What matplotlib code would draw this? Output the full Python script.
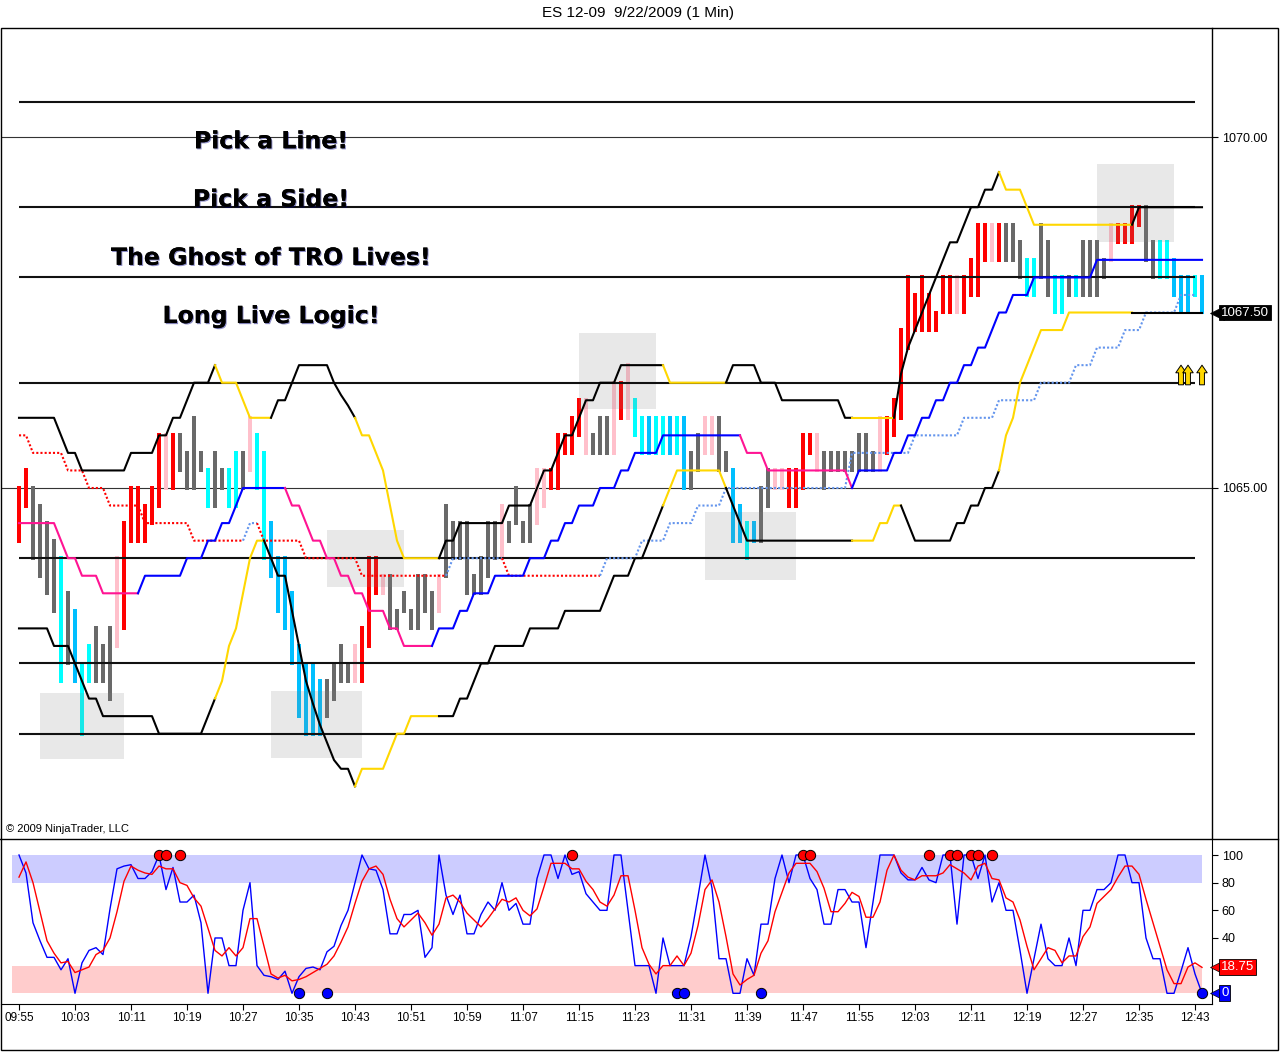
import numpy as np
import matplotlib.pyplot as plt
import matplotlib.patheffects as pe
from matplotlib import transforms
from matplotlib.patches import Rectangle
from matplotlib.lines import Line2D

plt.rcParams['font.family'] = ['Liberation Sans', 'DejaVu Sans']

# price is stored in ticks above/below 1065.00
BASE = 1065.0
TICK = 0.25

# 1-min bars, high / low in ticks
bar_hi = [0, 1, 0, -1, -2, -3, -4, -6, -7, -10,
          -9, -8, -9, -8, -4, -2, 0, 0, -1, 0,
          3, 3, 3, 3, 2, 4, 2, 1, 2, 1,
          1, 2, 2, 4, 3, 2, -2, -4, -4, -6,
          -9, -10, -10, -11, -11, -10, -9, -10, -9, -8,
          -4, -4, -5, -5, -7, -6, -7, -5, -5, -6,
          -5, -1, -2, -2, -2, -5, -4, -2, -2, -1,
          -2, 0, -2, -1, 1, 1, 1, 3, 3, 4,
          5, 5, 3, 4, 4, 6, 6, 7, 5, 4,
          4, 4, 4, 4, 4, 4, 2, 3, 4, 4,
          4, 2, 1, -1, -2, -2, 0, 1, 1, 1,
          1, 1, 3, 3, 3, 2, 2, 2, 2, 2,
          3, 3, 2, 4, 4, 5, 9, 12, 11, 12,
          11, 10, 12, 12, 12, 12, 13, 15, 15, 15,
          15, 15, 15, 14, 13, 13, 15, 14, 12, 12,
          12, 12, 14, 14, 14, 13, 15, 15, 15, 16,
          16, 16, 14, 14, 14, 13, 12, 12, 12, 12]
bar_lo = [-3, -1, -4, -5, -6, -7, -11, -10, -11, -14,
          -11, -11, -11, -12, -9, -8, -3, -3, -3, -2,
          -1, 0, 0, 1, 0, 0, 1, -1, -1, 0,
          -1, -1, 0, 1, 0, -4, -5, -7, -8, -10,
          -13, -14, -14, -14, -13, -12, -11, -11, -11, -11,
          -9, -6, -6, -8, -8, -7, -8, -8, -7, -8,
          -7, -5, -4, -4, -6, -6, -6, -5, -4, -4,
          -3, -2, -3, -3, -2, -1, 0, 0, 2, 2,
          3, 2, 2, 2, 2, 2, 4, 4, 3, 2,
          2, 2, 2, 2, 2, 0, 0, 1, 2, 2,
          1, 1, -3, -3, -4, -3, -3, -1, 0, 0,
          -1, -1, 0, 2, 1, 0, 1, 1, 1, 1,
          1, 1, 1, 1, 2, 3, 4, 8, 9, 9,
          9, 9, 10, 10, 10, 10, 11, 11, 13, 13,
          13, 13, 13, 12, 11, 11, 12, 11, 10, 10,
          11, 11, 11, 11, 11, 12, 13, 14, 14, 14,
          15, 13, 12, 12, 12, 11, 10, 10, 11, 10]
# r red, p pink, g grey, c cyan, b sky blue
bar_col = list("rrggggcgbc" "cgggprrrrr" "rprggggcgg" "ccgpccbbbb"
               "bbbbggggpr" "rrpggggggg" "pggggggggp" "ggggpprrrr"
               "rpgggprpcc" "bccbcbggpp" "ggbbcbggpp" "rrrrpggggg"
               "gggprrrrrr" "rrrrprrrrp" "rgggccggcc" "gcggggprrr"
               "rggccbbbcb")

# envelope / trend lines (ticks) and their colour runs
upper = [4, 4, 4, 4, 4, 4, 3, 2, 2, 1,
         1, 1, 1, 1, 1, 1, 2, 2, 2, 2,
         3, 3, 4, 4, 5, 6, 6, 6, 7, 6,
         6, 6, 5, 4, 4, 4, 4, 5, 5, 6,
         7, 7, 7, 7, 7, 6, 5.3, 4.7, 4, 3,
         3, 2, 1, -1, -3, -4, -4, -4, -4, -4,
         -4, -3, -3, -2, -2, -2, -2, -2, -2, -2,
         -1, -1, -1, -1, 0, 1, 1, 2, 3, 3,
         4, 5, 5, 6, 6, 6, 7, 7, 7, 7,
         7, 7, 7, 6, 6, 6, 6, 6, 6, 6,
         6, 6, 7, 7, 7, 7, 6, 6, 6, 5,
         5, 5, 5, 5, 5, 5, 5, 5, 4, 4,
         4, 4, 4, 4, 4, 4, 6.5, 8, 9, 10,
         11, 12, 13, 14, 14, 15, 16, 16, 17, 17,
         18, 17, 17, 17, 16, 15, 15, 15, 15, 15,
         15, 15, 15, 15, 15, 15, 15, 15, 15, 15,
         16, 16, 16, 16, 16, 16, 16, 16, 16, 16]
upper_runs = [('k', 29), ('y', 8), ('k', 12), ('y', 12), ('k', 32), ('y', 9),
              ('k', 18), ('y', 6), ('k', 15), ('y', 19), ('k', 10)]

lower = [-8, -8, -8, -8, -8, -9, -9, -9, -10, -11,
         -12, -12, -13, -13, -13, -13, -13, -13, -13, -13,
         -14, -14, -14, -14, -14, -14, -14, -13, -12, -11,
         -9, -8, -6, -4, -3, -3, -4, -5, -5, -7,
         -9, -11, -12.3, -13.5, -14.5, -15.5, -16, -16, -17, -16,
         -16, -16, -16, -15, -14, -14, -13, -13, -13, -13,
         -13, -13, -13, -12, -12, -11, -10, -10, -9, -9,
         -9, -9, -9, -8, -8, -8, -8, -8, -7, -7,
         -7, -7, -7, -7, -6, -5, -5, -5, -4, -4,
         -3, -2, -1, 0, 1, 1, 1, 1, 1, 1,
         1, 0, -1, -2, -3, -3, -3, -3, -3, -3,
         -3, -3, -3, -3, -3, -3, -3, -3, -3, -3,
         -3, -3, -3, -2, -2, -1, -1, -2, -3, -3,
         -3, -3, -3, -3, -2, -2, -1, -1, 0, 0,
         1, 3, 4, 6, 7, 8, 9, 9, 9, 9,
         10, 10, 10, 10, 10, 10, 10, 10, 10, 10,
         10, 10, 10, 10, 10, 10, 10, 10, 10, 10]
lower_runs = [('k', 29), ('y', 7), ('k', 13), ('y', 12), ('k', 32), ('y', 9),
              ('k', 18), ('y', 7), ('k', 14), ('y', 19), ('k', 10)]

middle = [-2, -2, -2, -2, -2, -2, -3, -4, -4, -5,
          -5, -5, -6, -6, -6, -6, -6, -6, -5, -5,
          -5, -5, -5, -5, -4, -4, -4, -3, -3, -2,
          -2, -1, 0, 0, 0, 0, 0, 0, 0, -1,
          -1, -2, -3, -3, -4, -4, -5, -5, -6, -6,
          -7, -7, -7, -8, -8, -9, -9, -9, -9, -9,
          -8, -8, -8, -7, -7, -6, -6, -6, -5, -5,
          -5, -5, -5, -4, -4, -4, -3, -3, -2, -2,
          -1, -1, -1, 0, 0, 0, 1, 1, 2, 2,
          2, 2, 3, 3, 3, 3, 3, 3, 3, 3,
          3, 3, 3, 3, 2, 2, 2, 1, 1, 1,
          1, 1, 1, 1, 1, 1, 1, 1, 1, 0,
          1, 1, 1, 1, 1, 2, 2, 3, 3, 4,
          4, 5, 5, 6, 6, 7, 7, 8, 8, 9,
          10, 10, 11, 11, 11, 12, 12, 12, 12, 12,
          12, 12, 12, 12, 13, 13, 13, 13, 13, 13,
          13, 13, 13, 13, 13, 13, 13, 13, 13, 13]
middle_runs = [('p', 18), ('b', 21), ('p', 21), ('b', 44), ('p', 16), ('b', 50)]

dotted = [3, 3, 2, 2, 2, 2, 2, 1, 1, 1,
          0, 0, 0, -1, -1, -1, -1, -1, -2, -2,
          -2, -2, -2, -2, -2, -3, -3, -3, -3, -3,
          -3, -3, -3, -2, -2, -3, -3, -3, -3, -3,
          -3, -4, -4, -4, -4, -4, -4, -4, -4, -5,
          -5, -5, -5, -5, -5, -5, -5, -5, -5, -5,
          -5, -5, -4, -4, -4, -4, -4, -4, -4, -4,
          -5, -5, -5, -5, -5, -5, -5, -5, -5, -5,
          -5, -5, -5, -5, -4, -4, -4, -4, -4, -3,
          -3, -3, -3, -2, -2, -2, -2, -1, -1, -1,
          -1, 0, 0, 0, 0, 0, 0, 0, 0, 0,
          0, 0, 0, 0, 0, 0, 0, 0, 0, 2,
          2, 2, 2, 2, 2, 2, 2, 2, 3, 3,
          3, 3, 3, 3, 3, 4, 4, 4, 4, 4,
          5, 5, 5, 5, 5, 5, 6, 6, 6, 6,
          6, 7, 7, 7, 8, 8, 8, 8, 9, 9,
          9, 10, 10, 10, 10, 10, 11, 11, 11, np.nan]
dotted_runs = [('r', 33), ('b', 2), ('r', 27), ('b', 8), ('r', 14), ('b', 86)]

levels = [1070.50, 1069.00, 1068.00, 1066.50, 1064.00, 1062.50, 1061.50]

# shaded zones: first bar, last bar, low price, high price
zones = [(3, 15, 1061.14, 1062.08), (36, 49, 1061.16, 1062.11),
         (44, 55, 1063.59, 1064.40), (80, 91, 1066.13, 1067.21),
         (98, 111, 1063.69, 1064.66), (154, 165, 1068.50, 1069.62)]

captions = ['Pick a Line!', 'Pick a Side!', 'The Ghost of TRO Lives!', 'Long Live Logic!']
caption_price = [1069.84, 1069.01, 1068.18, 1067.35]
caption_bar = 36

arrow_bars = [166, 167, 169]
arrow_base, arrow_tip = 1066.47, 1066.75
last_price = 1067.50

# stochastics
fast_k = [100, 87, 51, 38, 26, 26, 17, 25, 0, 22,
          31, 33, 28, 61, 90, 92, 93, 83, 83, 88,
          100, 75, 91, 66, 66, 71, 51, 0, 40, 40,
          20, 20, 60, 80, 20, 13, 12, 10, 16, 0,
          12, 18, 19, 17, 30, 34, 49, 60, 80, 100,
          90, 89, 75, 43, 43, 57, 57, 60, 26, 33,
          100, 71, 57, 71, 43, 43, 57, 66, 60, 80,
          60, 65, 50, 50, 83, 100, 100, 83, 100, 86,
          88, 72, 66, 60, 60, 100, 100, 60, 20, 20,
          20, 0, 40, 20, 20, 20, 41, 70, 100, 76,
          25, 25, 0, 0, 25, 13, 50, 50, 83, 100,
          80, 100, 100, 83, 75, 50, 50, 75, 75, 66,
          66, 33, 66, 100, 100, 100, 87, 82, 82, 91,
          82, 80, 100, 100, 50, 100, 100, 83, 100, 66,
          80, 60, 60, 31, 0, 25, 50, 25, 20, 20,
          40, 20, 60, 60, 75, 75, 80, 100, 100, 80,
          80, 40, 25, 25, 0, 0, 16, 33, 14, 0]
slow_d = [84, 95, 80, 59, 38, 29, 22, 23, 15, 17,
          19, 28, 31, 40, 59, 81, 92, 89, 87, 86,
          92, 90, 90, 80, 78, 69, 63, 47, 31, 27,
          33, 27, 33, 54, 54, 34, 14, 11, 13, 9,
          10, 12, 15, 18, 21, 27, 37, 48, 65, 81,
          90, 92, 86, 68, 54, 48, 53, 58, 51, 42,
          50, 69, 71, 66, 58, 53, 48, 54, 61, 68,
          66, 69, 60, 56, 61, 77, 94, 94, 94, 90,
          90, 81, 75, 66, 63, 71, 85, 85, 60, 33,
          21, 14, 20, 20, 27, 20, 29, 49, 75, 82,
          66, 41, 14, 6, 10, 13, 29, 38, 59, 73,
          87, 94, 94, 94, 88, 76, 59, 59, 65, 73,
          70, 55, 55, 66, 89, 100, 89, 84, 82, 85,
          85, 85, 87, 93, 90, 87, 82, 92, 94, 83,
          82, 69, 66, 53, 34, 17, 25, 33, 31, 22,
          27, 27, 41, 48, 65, 70, 75, 84, 92, 92,
          86, 68, 51, 34, 17, 7, 7, 19, 22, 18.75]
top_dots = [20, 21, 23, 79, 112, 113, 130, 133, 134, 136, 137, 139]
bottom_dots = [40, 44, 94, 95, 106, 169]
time_labels = ['09:55', '10:03', '10:11', '10:19', '10:27', '10:35', '10:43', '10:51',
               '10:59', '11:07', '11:15', '11:23', '11:31', '11:39', '11:47', '11:55',
               '12:03', '12:11', '12:19', '12:27', '12:35', '12:43']

BAR_COLORS = {'r': '#FF0000', 'p': '#FFC0CB', 'g': '#696969', 'c': '#00FFFF', 'b': '#00BFFF'}
ENV_COLORS = {'k': '#000000', 'y': '#FFD700'}
MID_COLORS = {'p': '#FF1493', 'b': '#0000FF'}
DOT_COLORS = {'r': '#FF0000', 'b': '#6495ED'}

n = len(bar_hi)
assert len(bar_lo) == n and len(bar_col) == n
idx = np.arange(n)
hi = BASE + TICK * np.array(bar_hi, float)
lo = BASE + TICK * np.array(bar_lo, float)


def to_price(vals):
    return BASE + TICK * np.asarray(vals, float)


def colored_line(ax, vals, runs, cmap, **kw):
    y = to_price(vals)
    flags = ''.join(c * k for c, k in runs)
    i = 1
    while i < len(y):
        j = i
        while j + 1 < len(y) and flags[j + 1] == flags[i]:
            j += 1
        ax.plot(idx[i - 1:j + 1], y[i - 1:j + 1], color=cmap[flags[i]], **kw)
        i = j + 1


W, H = 1280, 1052
fig = plt.figure(figsize=(W / 100, H / 100), dpi=100)


def frame(x0, y0, x1, y1):
    return [x0 / W, 1 - y1 / H, (x1 - x0) / W, (y1 - y0) / H]


ax = fig.add_axes(frame(1, 28, 1212, 838))
ax2 = fig.add_axes(frame(1, 840, 1212, 1004))
xlim = (-18 / 7, 1193 / 7)

# ---- price panel ----
ax.set_xlim(*xlim)
ax.set_ylim(1060.014, 1071.553)
for v in (1065, 1070):
    ax.axhline(v, color='#333333', lw=0.8, zorder=1)

pad = 0.028
ax.bar(idx, hi - lo + 2 * pad, bottom=lo - pad, width=0.58,
       color=[BAR_COLORS[c] for c in bar_col], lw=0, zorder=2)

for b0, b1, p0, p1 in zones:
    ax.add_patch(Rectangle((b0, p0), b1 - b0, p1 - p0, fc='#808080', alpha=0.18,
                           lw=0, zorder=2.5))

ax.hlines(levels, 0, n - 2, colors='#111111', lw=1.5, zorder=3)

colored_line(ax, dotted, dotted_runs, DOT_COLORS, lw=1.5, ls=(0, (1, 1)), zorder=4)
colored_line(ax, middle, middle_runs, MID_COLORS, lw=1.5, zorder=4.2)
colored_line(ax, lower, lower_runs, ENV_COLORS, lw=1.5, zorder=4.4)
colored_line(ax, upper, upper_runs, ENV_COLORS, lw=1.5, zorder=4.4)

for b in arrow_bars:
    ax.annotate('', xy=(b, arrow_tip), xytext=(b, arrow_base),
                arrowprops=dict(arrowstyle='simple,head_length=0.55,head_width=0.75,tail_width=0.35',
                                fc='#FFD700', ec='black', lw=0.7, shrinkA=0, shrinkB=0),
                zorder=6)

shadow = [pe.withSimplePatchShadow(offset=(0.8, -0.8), shadow_rgbFace='#000080', alpha=0.45),
          pe.Normal()]
for txt, p in zip(captions, caption_price):
    ax.text(caption_bar, p, txt, ha='center', va='baseline', fontsize=17,
            fontweight='bold', family='DejaVu Sans', color='black',
            path_effects=shadow, zorder=7)

ax.set_xticks([])
ax.yaxis.tick_right()
ax.set_yticks([1065, 1070])
ax.set_yticklabels(['1065.00', '1070.00'])
ax.tick_params(axis='y', length=4, width=0.8, pad=3, labelsize=9, colors='black')
for s in ('left', 'top', 'bottom'):
    ax.spines[s].set_visible(False)
ax.spines['right'].set_linewidth(1)


def tag(axis, value, label, fc):
    tr = transforms.blended_transform_factory(axis.transAxes, axis.transData)
    axis.plot([1], [value], marker='<', ms=10, color=fc, mec='black', mew=0.5,
              transform=tr + transforms.ScaledTranslation(0.05, 0, fig.dpi_scale_trans),
              clip_on=False, zorder=10)
    axis.annotate(label, xy=(1, value), xycoords=tr, xytext=(9, 0),
                  textcoords='offset pixels', ha='left', va='center', color='white',
                  fontsize=9.5, annotation_clip=False, zorder=11,
                  bbox=dict(boxstyle='square,pad=0.15', fc=fc, ec='black', lw=0.6))


tag(ax, last_price, '1067.50', 'black')

# ---- stochastics panel ----
ax2.set_xlim(*xlim)
ax2.set_ylim(-7.74, 110.85)
ax2.fill_between([-1, n - 1], 80, 100, color='#CCCCFF', lw=0, zorder=1)
ax2.fill_between([-1, n - 1], 0, 20, color='#FFCCCC', lw=0, zorder=1)
ax2.plot(idx, fast_k, color='#0000FF', lw=1.0, zorder=3)
ax2.plot(idx, slow_d, color='#FF0000', lw=1.0, zorder=3.5)
ax2.scatter(top_dots, np.full(len(top_dots), 100), s=55, c='#FF0000',
            edgecolors='black', linewidths=0.7, zorder=5, clip_on=False)
ax2.scatter(bottom_dots, np.full(len(bottom_dots), 0), s=55, c='#0000FF',
            edgecolors='black', linewidths=0.7, zorder=5, clip_on=False)

ax2.set_xticks(np.arange(0, n, 8))
ax2.set_xticklabels(time_labels)
ax2.tick_params(axis='x', length=4, width=0.8, pad=2, labelsize=8.5, colors='black')
ax2.yaxis.tick_right()
ax2.set_yticks([40, 60, 80, 100])
ax2.tick_params(axis='y', length=4, width=0.8, pad=3, labelsize=9)
for s in ('left', 'top'):
    ax2.spines[s].set_visible(False)
tag(ax2, slow_d[-1], '18.75', '#FF0000')
tag(ax2, fast_k[-1], '0', '#0000FF')

# ---- chart frame and text ----
fig.add_artist(Rectangle((1 / W, 1 - 1050 / H), 1277 / W, 1022 / H,
                         transform=fig.transFigure, fill=False, ec='black', lw=1))
fig.add_artist(Line2D([0, 1278 / W], [1 - 838.5 / H] * 2, color='black', lw=1))
fig.text(638 / W, 1 - 13 / H, 'ES 12-09  9/22/2009 (1 Min)', ha='center', va='center',
         fontsize=11)
fig.text(6 / W, 1 - 829 / H, '\u00a9 2009 NinjaTrader, LLC', ha='left', va='center',
         fontsize=8)

fig.savefig('out.png', dpi=100)
